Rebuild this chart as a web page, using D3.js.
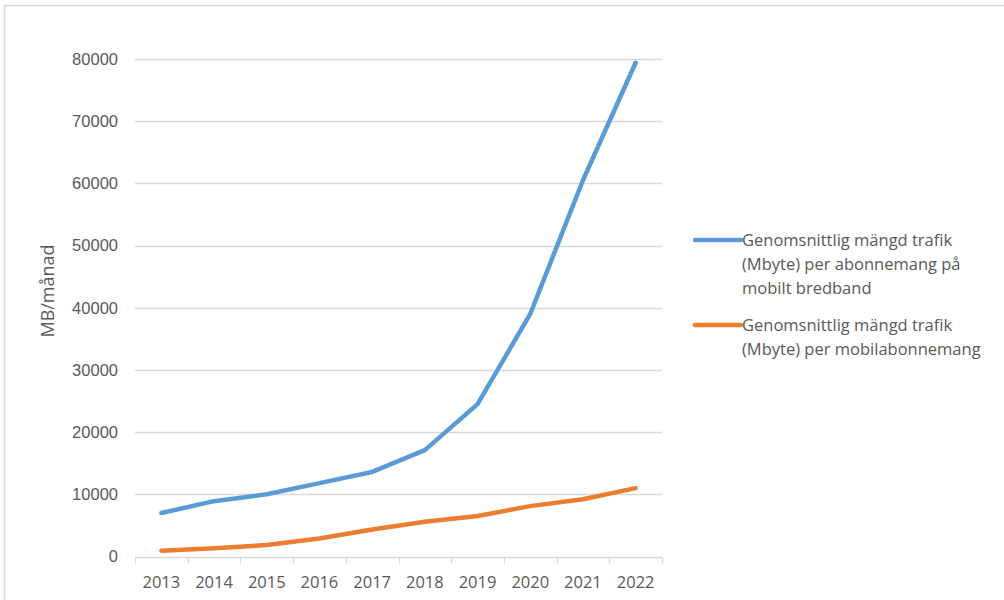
<!DOCTYPE html>
<html>
<head>
<meta charset="utf-8">
<script src="https://cdn.jsdelivr.net/npm/d3@7"></script>
<style>
  html, body { margin: 0; padding: 0; background: #fff; }
  svg { display: block; font-family: "Open Sans", "Liberation Sans", sans-serif; }
</style>
</head>
<body>
<svg id="chart" width="1004" height="600"></svg>
<script>
// Years on the category axis
const years = ["2013", "2014", "2015", "2016", "2017", "2018", "2019", "2020", "2021", "2022"];
// Average traffic (MB) per mobile broadband subscription
const broadband = [7000, 8900, 10000, 11800, 13600, 17100, 24500, 39000, 60500, 79400];
// Average traffic (MB) per mobile subscription
const mobile = [930, 1320, 1850, 2900, 4350, 5600, 6500, 8100, 9200, 11000];
// Y axis tick values
const yTicks = [0, 10000, 20000, 30000, 40000, 50000, 60000, 70000, 80000];

const seriesNames = [
  ["Genomsnittlig mängd trafik", "(Mbyte) per abonnemang på", "mobilt bredband"],
  ["Genomsnittlig mängd trafik", "(Mbyte) per mobilabonnemang"]
];
const colors = ["#5b9bd5", "#ed7d31"];

const svg = d3.select("#chart");

// outer chart frame
svg.append("path")
  .attr("d", "M4.5,600 L4.5,5.5 L1004,5.5")
  .attr("fill", "none").attr("stroke", "#d9d9d9").attr("stroke-width", 1.5);

const plot = { left: 135, right: 662, top: 59, bottom: 556.5 };

const x = d3.scaleBand().domain(years).range([plot.left, plot.right]);
const y = d3.scaleLinear().domain([0, 80000]).range([plot.bottom, plot.top]);

// gridlines
svg.append("g").selectAll("line")
  .data(yTicks.filter(d => d > 0))
  .join("line")
  .attr("x1", plot.left).attr("x2", plot.right)
  .attr("y1", d => Math.round(y(d)) + 0.5).attr("y2", d => Math.round(y(d)) + 0.5)
  .attr("stroke", "#d9d9d9").attr("stroke-width", 1.3);

// y axis labels
const yAxis = d3.axisLeft(y).tickValues(yTicks).tickSize(0).tickPadding(17).tickFormat(d3.format("d"));
const gy = svg.append("g").attr("transform", `translate(${plot.left},0)`).call(yAxis);
gy.select(".domain").remove();
gy.selectAll("text").attr("fill", "#595959").attr("font-size", 16.5);

// x axis with category boundary ticks
const gx = svg.append("g").attr("transform", `translate(0,${Math.round(plot.bottom) + 0.5})`);
gx.append("line").attr("x1", plot.left).attr("x2", plot.right)
  .attr("stroke", "#d9d9d9").attr("stroke-width", 1.3);
const edges = years.map(d => x(d)).concat([plot.right]);
gx.selectAll("line.tick").data(edges).join("line").attr("class", "tick")
  .attr("x1", d => Math.round(d) + 0.5).attr("x2", d => Math.round(d) + 0.5)
  .attr("y1", 0).attr("y2", 6)
  .attr("stroke", "#d9d9d9").attr("stroke-width", 1.3);
gx.selectAll("text").data(years).join("text")
  .attr("x", d => x(d) + x.bandwidth() / 2)
  .attr("y", 30)
  .attr("text-anchor", "middle")
  .attr("fill", "#595959").attr("font-size", 16.5)
  .text(d => d);

// y axis title
svg.append("text")
  .attr("transform", "translate(54,291) rotate(-90)")
  .attr("text-anchor", "middle")
  .attr("fill", "#595959").attr("font-size", 18)
  .text("MB/månad");

// series lines
const line = d3.line()
  .x((d, i) => x(years[i]) + x.bandwidth() / 2)
  .y(d => y(d));

[broadband, mobile].forEach((vals, k) => {
  svg.append("path")
    .datum(vals)
    .attr("d", line)
    .attr("fill", "none")
    .attr("stroke", colors[k])
    .attr("stroke-width", 4.5)
    .attr("stroke-linejoin", "round")
    .attr("stroke-linecap", "round");
});

// legend
const legendTops = [240, 325];
seriesNames.forEach((lines, k) => {
  const g = svg.append("g").attr("transform", `translate(695,${legendTops[k]})`);
  g.append("line").attr("x1", 0).attr("x2", 46).attr("y1", 0).attr("y2", 0)
    .attr("stroke", colors[k]).attr("stroke-width", 4.5).attr("stroke-linecap", "round");
  lines.forEach((t, i) => {
    g.append("text")
      .attr("x", 47).attr("y", i * 24 + 6)
      .attr("fill", "#595959").attr("font-size", 16.5)
      .text(t);
  });
});
</script>
</body>
</html>
